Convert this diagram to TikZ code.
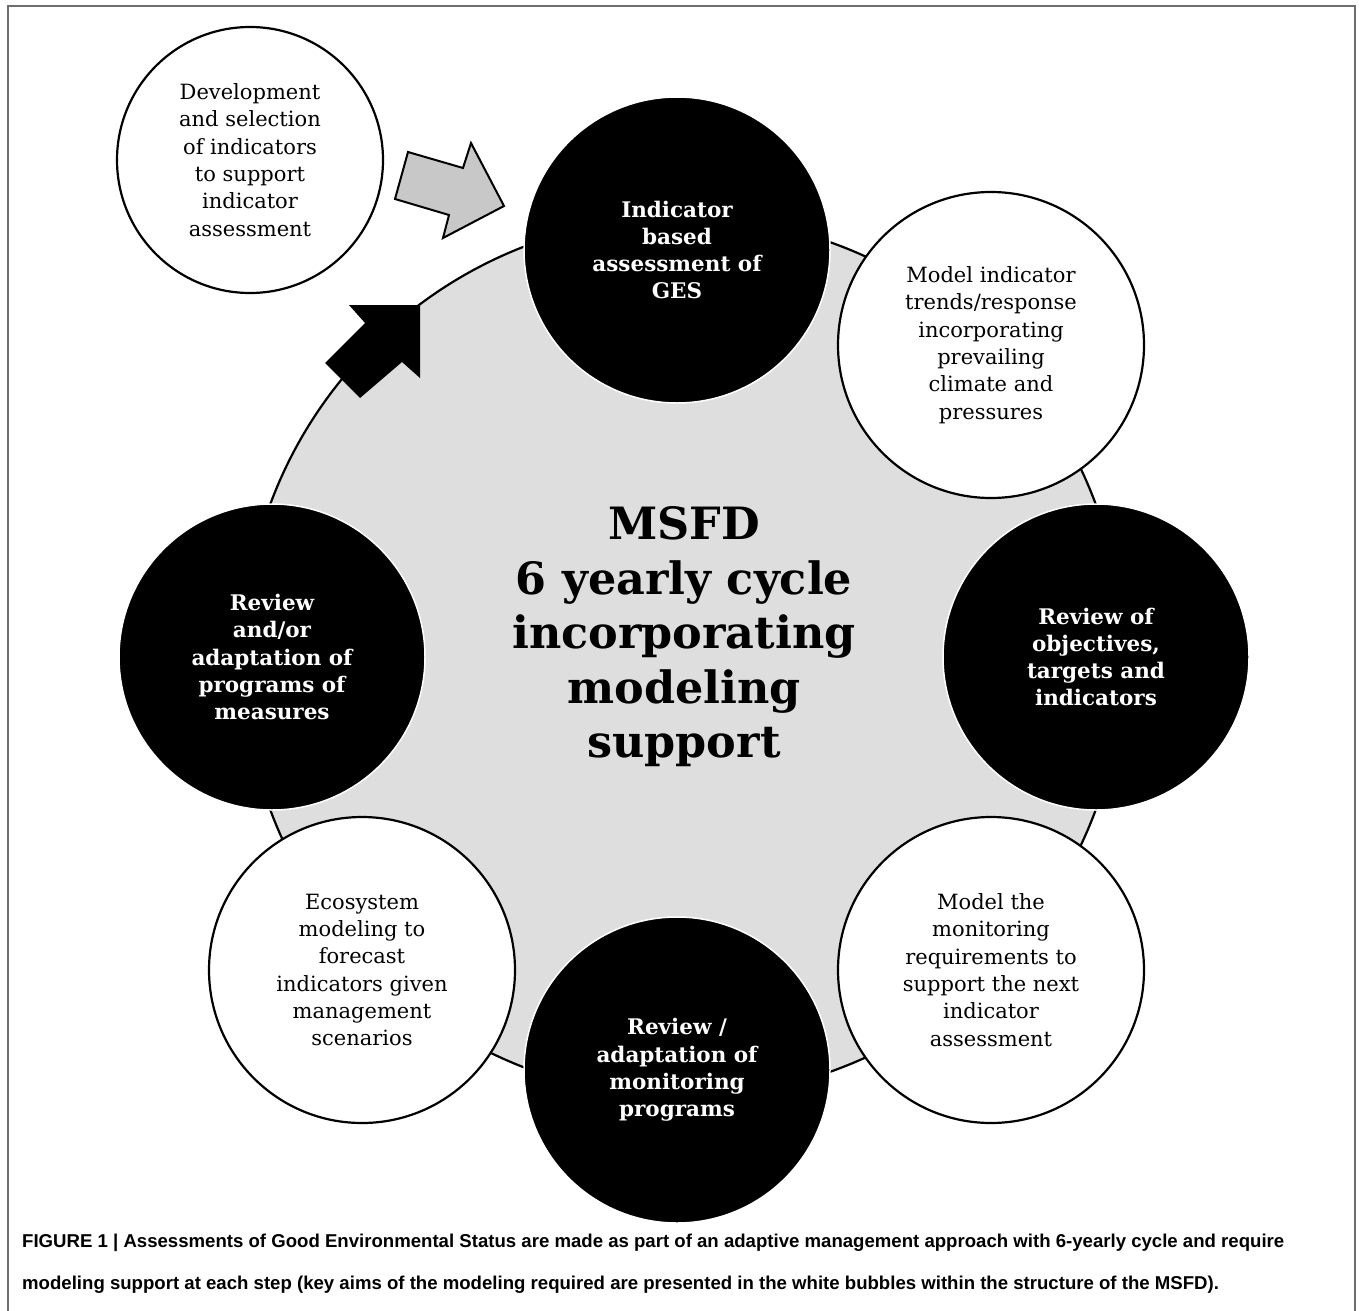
\documentclass[tikz,border=0pt]{standalone}
\usepackage{fontspec}
\setmainfont{DejaVu Serif}
\newfontfamily\capfont{Liberation Sans}
\definecolor{ringgray}{RGB}{222,222,222}
\definecolor{arrowgray}{RGB}{200,200,200}
\definecolor{framegray}{RGB}{110,110,110}
\begin{document}
\begin{tikzpicture}[x=1pt,y=-1pt,
  bub/.style={circle, draw=black, line width=2.2pt, fill=white, inner sep=0pt, align=center,
    font=\fontsize{21}{27.3}\selectfont},
  blk/.style={circle, draw=white, line width=1.5pt, fill=black, text=white, inner sep=0pt, align=center,
    font=\bfseries\fontsize{21.5}{27.3}\selectfont},
  ringstyle/.style={circle, draw=black, line width=2.2pt, fill=ringgray, inner sep=0pt, minimum size=880pt},
  captext/.style={anchor=base west, inner sep=0pt, font=\capfont\bfseries\fontsize{18.6}{21}\selectfont},
]
\useasboundingbox (0,0) rectangle (1362,1311);
\fill[white] (0,0) rectangle (1362,1311);
\draw[framegray, line width=1.5pt] (8,6) rectangle (1355,1340);

% big ring
\node[ringstyle] (ring) at (683,657) {};

% arrows
\filldraw[fill=arrowgray, draw=black, line width=2pt, line join=miter]
  (408,152) -- (463,168) -- (471,143) -- (504,206) -- (443,238) -- (449,215) -- (395,199) -- cycle;
\fill[black]
  (420,305) -- (420,378) -- (402,362) -- (360,398) -- (325,363) -- (365,323) -- (349,305) -- cycle;

% centre text
\node[align=center, inner sep=0pt, font=\bfseries\fontsize{44.5}{54.5}\selectfont] (title) at (684,637)
  {MSFD\\6 yearly cycle\\incorporating\\modeling\\support};

% black step circles
\node[blk, minimum size=306pt] (top) at (677,250) {Indicator\\based\\assessment of\\GES};
\node[blk, minimum size=306pt] (right) at (1096,657) {Review of\\objectives,\\targets and\\indicators};
\node[blk, minimum size=306pt] (bottom) at (677,1070) {Review /\\adaptation of\\monitoring\\programs};
\node[blk, minimum size=306pt] (left) at (272,657) {Review\\and/or\\adaptation of\\programs of\\measures};

% white modelling bubbles
\node[bub, minimum size=266pt] (dev) at (250,160) {Development\\and selection\\of indicators\\to support\\indicator\\assessment};
\node[bub, minimum size=306pt] (trend) at (991,345) {Model indicator\\trends/response\\incorporating\\prevailing\\climate and\\pressures};
\node[bub, minimum size=306pt] (monit) at (991,970) {Model the\\monitoring\\requirements to\\support the next\\indicator\\assessment};
\node[bub, minimum size=306pt] (eco) at (362,970) {Ecosystem\\modeling to\\forecast\\indicators given\\management\\scenarios};

% caption
\node[captext] (cap1) at (22,1247) {FIGURE 1 | Assessments of Good Environmental Status are made as part of an adaptive management approach with 6-yearly cycle and require};
\node[captext] (cap2) at (22,1289) {modeling support at each step (key aims of the modeling required are presented in the white bubbles within the structure of the MSFD).};
\end{tikzpicture}
\end{document}
